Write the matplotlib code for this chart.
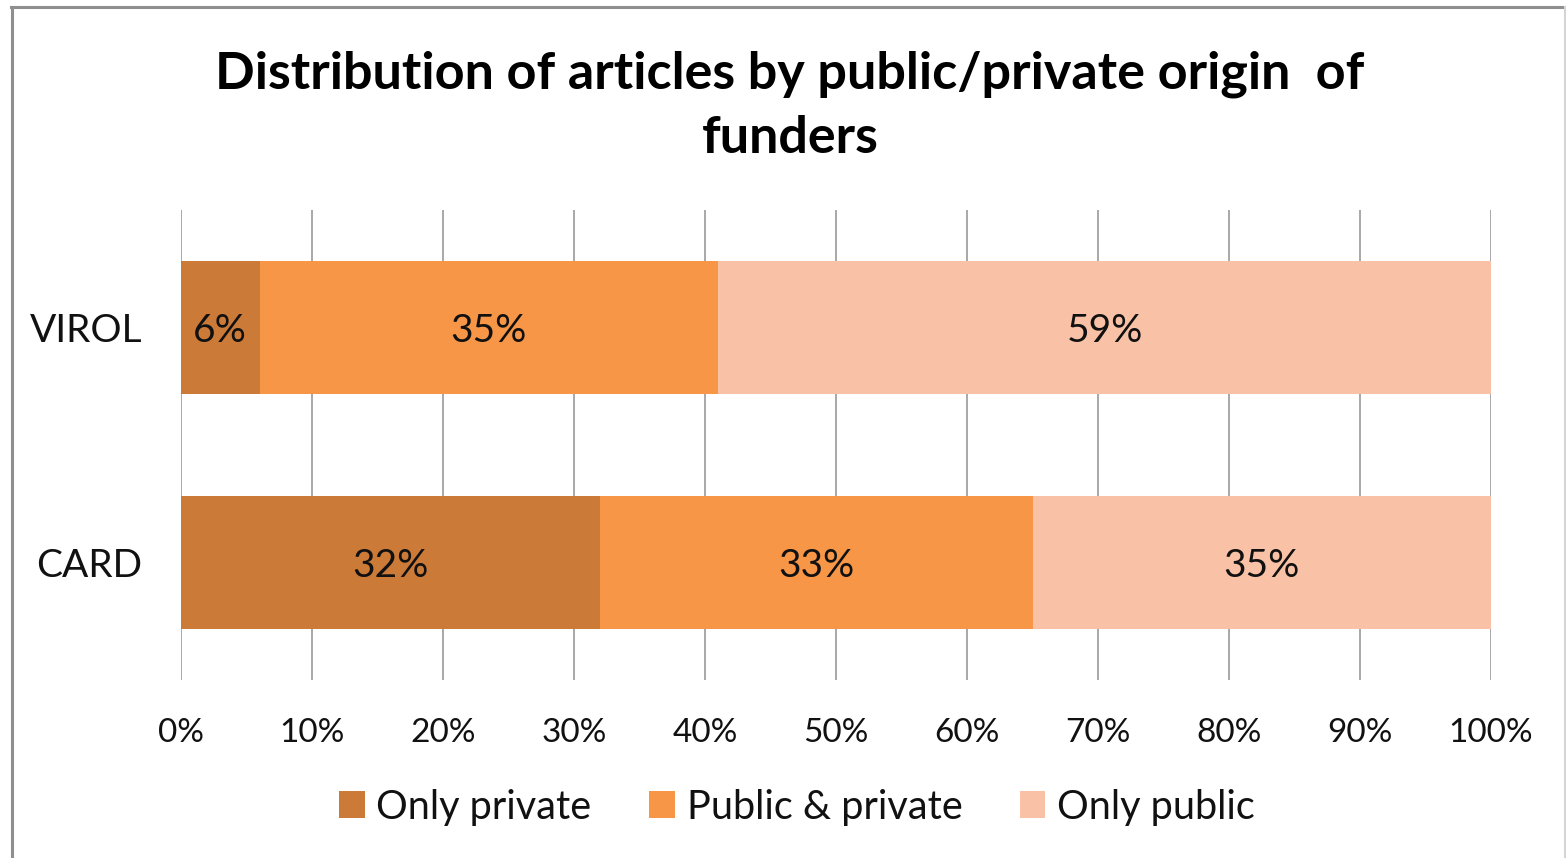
import matplotlib
matplotlib.use("Agg")
import matplotlib.pyplot as plt
from matplotlib.lines import Line2D
from matplotlib.patches import Patch

plt.rcParams['font.family'] = ['Lato', 'DejaVu Sans']

# Data
categories = ["CARD", "VIROL"]
series_names = ["Only private", "Public & private", "Only public"]
only_private = [32, 6]
public_private = [33, 35]
only_public = [35, 59]
series_values = [only_private, public_private, only_public]
colors = ["#CC7A38", "#F79646", "#F9C2A6"]
tick_values = list(range(0, 101, 10))
tick_labels = [f"{v}%" for v in tick_values]

fig = plt.figure(figsize=(15.66, 8.58), dpi=100)
ax = fig.add_axes([181 / 1566, 1 - 680 / 858, (1491 - 181) / 1566, 470 / 858])

ypos = list(range(len(categories)))
left = [0] * len(categories)
for name, vals, col in zip(series_names, series_values, colors):
    bars = ax.barh(ypos, vals, left=left, height=0.565, color=col, label=name, zorder=3)
    for b, v in zip(bars, vals):
        ax.text(b.get_x() + b.get_width() / 2, b.get_y() + b.get_height() / 2 - 0.015,
                f"{v}%", ha="center", va="center", fontsize=28, color="#111111", zorder=4)
    left = [l + v for l, v in zip(left, vals)]

ax.set_xlim(0, 100)
ax.set_ylim(-0.5, 1.5)
ax.set_xticks(tick_values)
ax.set_xticklabels(tick_labels)
ax.set_yticks(ypos)
ax.set_yticklabels(categories)
ax.tick_params(axis="x", length=0, pad=27, labelsize=24, colors="#111111")
ax.tick_params(axis="y", length=0, pad=28, labelsize=28, colors="#111111")
ax.grid(axis="x", color="#9a9a9a", linewidth=1.2, zorder=0)
ax.grid(axis="y", visible=False)
for s in ax.spines.values():
    s.set_visible(False)

fig.text(790 / 1566, 1 - 106 / 858,
         "Distribution of articles by public/private origin  of\nfunders",
         ha="center", va="center", fontsize=37.5, fontweight="bold",
         color="#000000", linespacing=1.45)

handles = [Patch(facecolor=c, edgecolor="none") for c in colors]
fig.legend(handles, series_names, loc="center", bbox_to_anchor=(797 / 1566, 1 - 807 / 858),
           ncol=3, frameon=False, fontsize=28.5, handlelength=0.65, handleheight=0.65,
           handletextpad=0.3, columnspacing=1.45, labelcolor="#111111")

# Outer frame
fig.add_artist(Line2D([11 / 1566, 1], [1 - 7 / 858, 1 - 7 / 858], transform=fig.transFigure,
                      color="#8f8f8f", linewidth=2.2))
fig.add_artist(Line2D([12 / 1566, 12 / 1566], [0, 1 - 7 / 858], transform=fig.transFigure,
                      color="#8f8f8f", linewidth=2.2))
fig.add_artist(Line2D([1565 / 1566, 1565 / 1566], [0, 1 - 7 / 858], transform=fig.transFigure,
                      color="#d4d4d4", linewidth=1.5))

fig.savefig("out.png", dpi=100)
